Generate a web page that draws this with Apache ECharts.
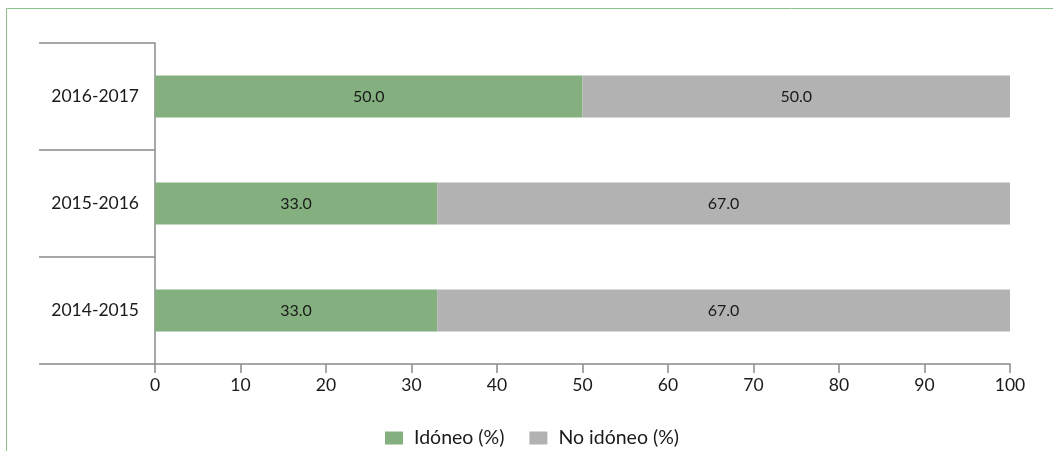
<!DOCTYPE html>
<html>
<head>
<meta charset="utf-8">
<script src="https://cdn.jsdelivr.net/npm/echarts@6/dist/echarts.min.js"></script>
<style>
  html, body { margin: 0; padding: 0; background: #fff; }
  #chart { width: 1053px; height: 451px; }
</style>
</head>
<body>
<div id="chart"></div>
<script>
// School years, bottom to top
const periods = ['2014-2015', '2015-2016', '2016-2017'];
// Share of suitable / not suitable (%)
const idoneo = [33.0, 33.0, 50.0];
const noIdoneo = [67.0, 67.0, 50.0];
const seriesNames = ['Idóneo (%)', 'No idóneo (%)'];

const FONT = 'Lato, "Open Sans", sans-serif';
const AXIS_COLOR = '#8a8a8a';

const chart = echarts.init(document.getElementById('chart'), null, { renderer: 'canvas' });

const labelStyle = {
  show: true,
  position: 'inside',
  color: '#1a1a1a',
  fontFamily: FONT,
  fontSize: 16,
  formatter: p => p.value.toFixed(1)
};

chart.setOption({
  animation: false,
  backgroundColor: '#ffffff',
  grid: { left: 155, right: 43, top: 43, bottom: 87 },
  graphic: [{
    type: 'polyline',
    shape: { points: [[6.5, 451], [6.5, 8.5], [1053, 8.5]] },
    style: { stroke: '#8cc08a', lineWidth: 1, fill: null },
    silent: true
  }],
  legend: {
    data: seriesNames,
    left: 385,
    top: 428,
    padding: 0,
    itemWidth: 18,
    itemHeight: 13,
    itemGap: 25,
    icon: 'rect',
    textStyle: { fontFamily: FONT, fontSize: 19.5, color: '#1a1a1a', padding: [0, 0, 0, 6] }
  },
  xAxis: {
    type: 'value',
    min: 0,
    max: 100,
    interval: 10,
    axisLine: { show: true, lineStyle: { color: AXIS_COLOR, width: 1.5 } },
    axisTick: { show: true, length: 9, lineStyle: { color: AXIS_COLOR, width: 1.5 } },
    axisLabel: { margin: 12, color: '#1a1a1a', fontFamily: FONT, fontSize: 17.5 },
    splitLine: { show: false }
  },
  yAxis: {
    type: 'category',
    data: periods,
    boundaryGap: true,
    axisLine: { show: true, lineStyle: { color: AXIS_COLOR, width: 1.5 } },
    axisTick: { show: true, length: 116, lineStyle: { color: AXIS_COLOR, width: 1.5 } },
    axisLabel: { margin: 16, color: '#1a1a1a', fontFamily: FONT, fontSize: 17.5 }
  },
  series: [
    {
      name: seriesNames[0],
      type: 'bar',
      stack: 'total',
      barWidth: 42,
      data: idoneo,
      itemStyle: { color: '#84b07f' },
      label: labelStyle
    },
    {
      name: seriesNames[1],
      type: 'bar',
      stack: 'total',
      barWidth: 42,
      data: noIdoneo,
      itemStyle: { color: '#b2b2b2' },
      label: labelStyle
    }
  ]
});
</script>
</body>
</html>
